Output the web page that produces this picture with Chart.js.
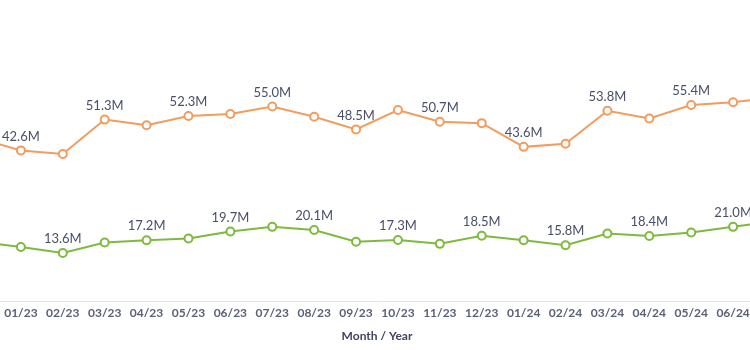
<!DOCTYPE html>
<html lang="en">
<head>
  <meta charset="UTF-8">
  <title>Monthly Totals</title>
  <script src="https://cdn.jsdelivr.net/npm/chart.js"></script>
  <style>
    html, body { margin: 0; padding: 0; background: #fff; overflow: hidden; width: 750px; height: 350px; }
    #wrap { position: absolute; left: -45px; top: 0; width: 844px; height: 350px; }
  </style>
</head>
<body>
  <div id="wrap"><canvas id="chart"></canvas></div>

  <script>
    // months shown on the x axis (first and last sit just outside the visible crop)
    const months = ['12/22', '01/23', '02/23', '03/23', '04/23', '05/23', '06/23', '07/23', '08/23', '09/23',
      '10/23', '11/23', '12/23', '01/24', '02/24', '03/24', '04/24', '05/24', '06/24', '07/24'];

    // values in millions
    const upperSeries = [46.0, 42.6, 41.6, 51.3, 49.7, 52.3, 52.9, 55.0, 52.1, 48.5,
      54.0, 50.7, 50.3, 43.6, 44.5, 53.8, 51.6, 55.4, 56.2, 57.6];
    const lowerSeries = [16.8, 15.3, 13.6, 16.6, 17.2, 17.7, 19.7, 21.0, 20.1, 16.8,
      17.3, 16.2, 18.5, 17.2, 15.8, 19.1, 18.4, 19.4, 21.0, 22.6];

    const orange = 'rgb(242, 156, 94)';
    const green = 'rgb(125, 186, 62)';

    // labels alternate between the two lines so they don't crowd each other
    const pointLabels = {
      id: 'pointLabels',
      afterDatasetsDraw(chart) {
        const ctx = chart.ctx;
        ctx.save();
        ctx.font = '13px Lato';
        ctx.fillStyle = '#4a4f69';
        ctx.textAlign = 'center';
        ctx.textBaseline = 'middle';
        chart.data.datasets.forEach((ds, di) => {
          const meta = chart.getDatasetMeta(di);
          meta.data.forEach((pt, i) => {
            if (i === 0) return;
            if (i % 2 !== ds.labelParity) return;
            ctx.fillText(ds.data[i].toFixed(1) + 'M', pt.x, pt.y - 14);
          });
        });
        ctx.restore();
      }
    };

    new Chart(document.getElementById('chart'), {
      type: 'line',
      data: {
        labels: months,
        datasets: [{
          label: 'Upper',
          data: upperSeries,
          borderColor: orange,
          backgroundColor: '#fff',
          borderWidth: 2,
          pointRadius: 4,
          pointBorderWidth: 2,
          pointBackgroundColor: '#fff',
          pointBorderColor: orange,
          tension: 0,
          labelParity: 1
        }, {
          label: 'Lower',
          data: lowerSeries,
          borderColor: green,
          backgroundColor: '#fff',
          borderWidth: 2,
          pointRadius: 4,
          pointBorderWidth: 2,
          pointBackgroundColor: '#fff',
          pointBorderColor: green,
          tension: 0,
          labelParity: 0
        }]
      },
      options: {
        responsive: true,
        maintainAspectRatio: false,
        animation: false,
        layout: { padding: { left: 24, right: 24, top: 18, bottom: 7 } },
        plugins: {
          legend: { display: false },
          tooltip: { enabled: false }
        },
        scales: {
          x: {
            grid: { display: false, drawTicks: false },
            border: { display: true, color: '#e2e3e7', width: 1 },
            ticks: {
              color: '#5b6079',
              font: { family: 'Lato', size: 12, weight: 'bold' },
              padding: 5,
              maxRotation: 0,
              autoSkip: false
            },
            title: {
              display: true,
              text: 'Month / Year',
              color: '#3f4560',
              font: { family: 'Lato', size: 12, weight: 'bold' },
              padding: { top: 3, bottom: 0 }
            }
          },
          y: { display: false, min: 0, max: 80 }
        }
      },
      plugins: [pointLabels]
    });
  </script>
</body>
</html>
